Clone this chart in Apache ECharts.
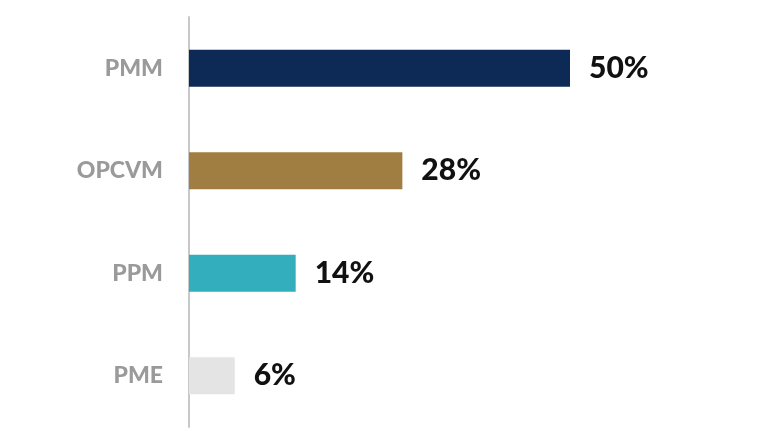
<!DOCTYPE html>
<html>
<head>
<meta charset="utf-8">
<script src="https://cdn.jsdelivr.net/npm/echarts@6/dist/echarts.min.js"></script>
<style>html,body{margin:0;padding:0;background:#fff;}#c{width:768px;height:431px;}</style>
</head>
<body>
<div id="c"></div>
<script>
const categories = ['PMM', 'OPCVM', 'PPM', 'PME'];
const values = [50, 28, 14, 6];
const barColors = ['#0d2a57', '#a07d40', '#33aebd', '#e4e4e4'];

const chart = echarts.init(document.getElementById('c'));
chart.setOption({
  animation: false,
  backgroundColor: '#ffffff',
  grid: { left: 189, top: 17, bottom: 4, width: 457.2, containLabel: false },
  xAxis: {
    type: 'value', min: 0, max: 60,
    show: false
  },
  yAxis: {
    type: 'category',
    data: categories,
    inverse: true,
    axisLine: { show: true, lineStyle: { color: '#c8c8c8', width: 2 } },
    axisTick: { show: false },
    axisLabel: {
      margin: 26,
      color: '#9a9a9a',
      fontFamily: 'Lato',
      fontWeight: 900,
      fontSize: 23
    }
  },
  series: [{
    type: 'bar',
    barWidth: 37,
    data: values.map((v, i) => ({ value: v, itemStyle: { color: barColors[i] } })),
    label: {
      show: true,
      position: 'right',
      distance: 19,
      formatter: '{c}%',
      color: '#111111',
      fontFamily: 'Lato',
      fontWeight: 900,
      fontSize: 30
    }
  }]
});
</script>
</body>
</html>
